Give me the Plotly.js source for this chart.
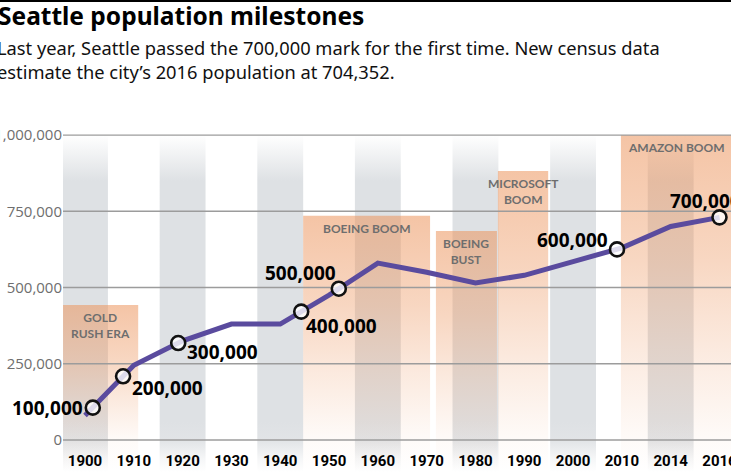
<!DOCTYPE html>
<html><head><meta charset="utf-8">
<script src="https://cdn.plot.ly/plotly-3.0.1.min.js"></script>
<style>html,body{margin:0;padding:0;background:#fff;overflow:hidden;}#chart{width:760px;height:472px;}</style>
</head><body><div id="chart"></div>
<script>
// ---- data ----
const years = ['1900','1910','1920','1930','1940','1950','1960','1970','1980','1990','2000','2010','2014','2016'];
const population = [80000,245000,325000,380000,380000,475000,580000,550000,515000,540000,585000,630000,700000,730000];

const milestoneLabels = ['100,000','200,000','300,000','400,000','500,000','600,000','700,000'];
const milestonePos    = [0.16, 0.78, 1.91, 4.43, 5.20, 10.90, 13.0];   // position along the year axis (category index)
const milestoneValues = [106000, 209000, 318000, 421000, 496000, 625000, 730000];

const eraNames  = ['GOLD<br>RUSH ERA','BOEING BOOM','BOEING<br>BUST','MICROSOFT<br>BOOM','AMAZON BOOM'];
const eraStart  = [-0.45, 4.47, 7.19, 8.46, 10.98];
const eraEnd    = [1.09, 7.07, 8.44, 9.49, 13.25];
const eraTop    = [443000, 735000, 685000, 882000, 1000000];

const yTickVals = [0, 250000, 500000, 750000, 1000000];
const yTickText = ['0','250,000','500,000','750,000','1,000,000'];

// ---- layout geometry ----
const W = 760, H = 472, ML = 63, MT = 100;
const xRange = [-0.4508, 13.83];
const yRange = [-104928, 1114860];
const px2paperX = p => (p - ML) / (W - ML);
const px2paperY = p => (H - p) / (H - MT);

const traces = [];

// alternating gray columns
const grayCol = 'rgba(222,225,228,';
const frac = v => (v - yRange[0]) / (1000000 - yRange[0]);
years.forEach((y, i) => {
  if (i % 2 !== 0) return;
  const s = i - 0.47, e = i + 0.47;
  traces.push({
    type: 'scatter', mode: 'lines', x: [s, e, e, s, s], y: [yRange[0], yRange[0], 1000000, 1000000, yRange[0]],
    fill: 'toself', line: {width: 0}, hoverinfo: 'skip',
    fillgradient: {type: 'vertical', start: yRange[0], stop: 1000000,
      colorscale: [[0, grayCol + '0)'], [frac(-60000), grayCol + '0.3)'], [frac(0), grayCol + '0.9)'],
                   [frac(60000), grayCol + '1)'], [frac(850000), grayCol + '1)'], [1, grayCol + '0)']]}
  });
});

// era boxes
const org = 'rgba(236,148,92,';
eraNames.forEach((n, k) => {
  const s = eraStart[k], e = eraEnd[k], t = eraTop[k], b = yRange[0];
  const f = v => (v - b) / (t - b);
  traces.push({
    type: 'scatter', mode: 'lines', x: [s, e, e, s, s], y: [b, b, t, t, b],
    fill: 'toself', line: {width: 0}, hoverinfo: 'skip',
    fillgradient: {type: 'vertical', start: b, stop: t,
      colorscale: [[0, org + '0)'], [f(0), org + '0.04)'], [f(t * 0.3), org + '0.2)'],
                   [f(t * 0.6), org + '0.38)'], [1, org + '0.55)']]}
  });
});

// gridlines (drawn above the shaded columns)
yTickVals.forEach(v => {
  traces.push({type: 'scatter', mode: 'lines', x: [xRange[0], xRange[1]], y: [v, v],
    line: {color: '#9c9c9c', width: 1.3}, hoverinfo: 'skip'});
});

// population line
traces.push({type: 'scatter', mode: 'lines', x: years.map((_, i) => i), y: population,
  line: {color: '#5a4b9e', width: 5}, hoverinfo: 'skip'});

// milestone circles
traces.push({type: 'scatter', mode: 'markers', x: milestonePos, y: milestoneValues,
  marker: {symbol: 'circle', size: 14, color: 'rgba(255,255,255,0.8)', line: {color: '#111', width: 2.6}},
  hoverinfo: 'skip'});

const annotations = [];
// title + subtitle
annotations.push({xref: 'paper', yref: 'paper', x: px2paperX(-4), y: px2paperY(15), xanchor: 'left', yanchor: 'middle',
  text: 'Seattle population milestones', showarrow: false,
  font: {family: 'Noto Sans', size: 24.5, weight: 700, color: '#000'}});
annotations.push({xref: 'paper', yref: 'paper', x: px2paperX(-5), y: px2paperY(59), xanchor: 'left', yanchor: 'middle', align: 'left',
  text: 'Last year, Seattle passed the 700,000 mark for the first time. New census data<br>estimate the city\u2019s 2016 population at 704,352.',
  showarrow: false, font: {family: 'Noto Sans', size: 18.3, color: '#111'}});

// era labels
eraNames.forEach((n, k) => {
  annotations.push({x: (eraStart[k] + eraEnd[k]) / 2, y: eraTop[k], xref: 'x', yref: 'y', yanchor: 'top', yshift: -3,
    text: n, showarrow: false, font: {family: 'Lato', size: 12, weight: 700, color: '#6e6e6e'}});
});

// milestone labels
const mlAnchor = ['right','left','left','left','right','right','left'];
const mlDx = [-8, 7, 7, 3, -1, -7, -51];
const mlDy = [0, -12, -9, -14, 16, 9, 16];
milestoneLabels.forEach((t, k) => {
  annotations.push({x: milestonePos[k], y: milestoneValues[k], xref: 'x', yref: 'y', xanchor: mlAnchor[k], yanchor: 'middle',
    xshift: mlDx[k], yshift: mlDy[k], text: t, showarrow: false,
    font: {family: 'Noto Sans', size: 19, weight: 700, color: '#000'}});
});

const layout = {
  width: W, height: H, margin: {l: ML, r: 0, t: MT, b: 0},
  paper_bgcolor: '#fff', plot_bgcolor: '#fff', showlegend: false, hovermode: false,
  xaxis: {range: xRange, tickvals: years.map((_, i) => i), ticktext: years, ticks: '', showgrid: false, zeroline: false,
    showline: false, ticklabelposition: 'inside',
    tickfont: {family: 'Liberation Sans Narrow, Roboto, sans-serif', size: 15, weight: 700, color: '#000'}},
  yaxis: {range: yRange, tickvals: yTickVals, ticktext: yTickText, ticks: '', showgrid: false, zeroline: false,
    showline: false, tickfont: {family: 'Open Sans', size: 15, color: '#6e6e6e'}},
  shapes: [{type: 'line', xref: 'paper', yref: 'paper', x0: -0.2, x1: 1.1, y0: px2paperY(1), y1: px2paperY(1),
    line: {color: '#000', width: 2}}],
  annotations: annotations
};

Plotly.newPlot('chart', traces, layout, {staticPlot: true, displayModeBar: false});
</script></body></html>
